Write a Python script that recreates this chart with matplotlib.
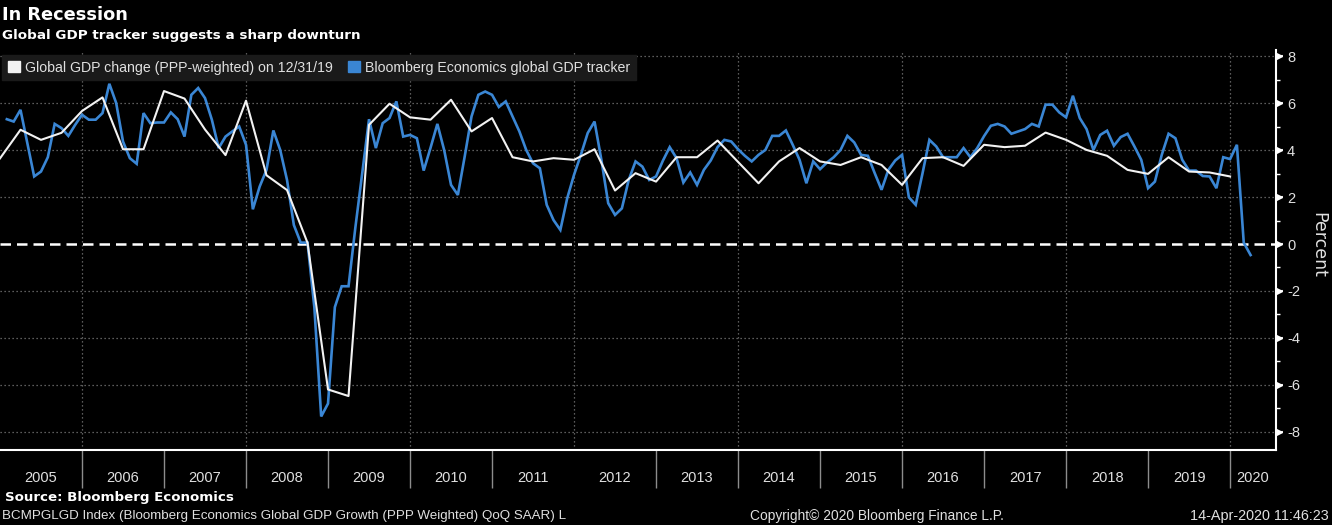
import numpy as np
import matplotlib
matplotlib.use("Agg")
import matplotlib.pyplot as plt
from matplotlib.patches import Patch

plt.rcParams["axes.unicode_minus"] = False

# ---------------- data ----------------
gdp_label = "Global GDP change (PPP-weighted) on 12/31/19"
tracker_label = "Bloomberg Economics global GDP tracker"

# quarterly global GDP change, from 2005 Q1 (plotted on quarter boundaries)
gdp_start = 2005.0
gdp_values = [3.65, 4.87, 4.44, 4.74, 5.67, 6.25, 4.04, 4.04, 6.52, 6.20,
              4.88, 3.79, 6.11, 2.93, 2.30, 0.05, -6.20, -6.48, 5.08, 5.98,
              5.40, 5.30, 6.15, 4.80, 5.37, 3.70, 3.52, 3.66, 3.59, 4.04,
              2.28, 3.02, 2.66, 3.70, 3.70, 4.41, 3.50, 2.59, 3.52, 4.09,
              3.52, 3.37, 3.70, 3.37, 2.52, 3.66, 3.70, 3.33, 4.23, 4.13,
              4.19, 4.75, 4.44, 4.01, 3.76, 3.16, 2.99, 3.70, 3.09, 3.05,
              2.88]

# monthly Bloomberg Economics tracker, first point end of Jan 2005
tracker_start = 2005.0 + 1 / 12
tracker_values = [5.32, 5.22, 5.72, 4.30, 2.88, 3.09, 3.70, 5.12, 4.94, 4.61,
                  5.08, 5.51, 5.30, 5.30, 5.58, 6.83, 6.01, 4.37, 3.66, 3.42,
                  5.58, 5.15, 5.18, 5.18, 5.61, 5.32, 4.58, 6.36, 6.65, 6.22,
                  5.30, 4.09, 4.58, 4.80, 5.01, 4.23, 1.48, 2.45, 3.16, 4.84,
                  4.01, 2.73, 0.81, 0.06, 0.06, -2.70, -7.35, -6.80, -2.69, -1.80,
                  -1.80, 0.70, 3.00, 5.32, 4.09, 5.15, 5.37, 6.08, 4.58, 4.65,
                  4.51, 3.13, 4.10, 5.12, 4.00, 2.52, 2.09, 3.73, 5.44, 6.36,
                  6.50, 6.36, 5.84, 6.08, 5.44, 4.80, 4.01, 3.44, 3.23, 1.67,
                  1.02, 0.60, 1.95, 2.95, 3.80, 4.73, 5.22, 3.59, 1.74, 1.24,
                  1.52, 2.73, 3.52, 3.30, 2.73, 2.88, 3.55, 4.13, 3.66, 2.62,
                  3.05, 2.52, 3.16, 3.56, 4.13, 4.44, 4.37, 4.04, 3.76, 3.52,
                  3.80, 4.01, 4.61, 4.61, 4.84, 4.23, 3.59, 2.59, 3.52, 3.19,
                  3.47, 3.70, 4.01, 4.61, 4.33, 3.80, 3.76, 3.02, 2.31, 3.16,
                  3.56, 3.80, 1.99, 1.67, 3.02, 4.44, 4.16, 3.70, 3.70, 3.70,
                  4.09, 3.70, 4.09, 4.60, 5.04, 5.12, 5.01, 4.70, 4.80, 4.90,
                  5.12, 5.01, 5.94, 5.94, 5.61, 5.40, 6.32, 5.37, 4.90, 4.01,
                  4.65, 4.83, 4.19, 4.56, 4.70, 4.16, 3.59, 2.38, 2.66, 3.80,
                  4.70, 4.51, 3.59, 3.13, 3.13, 2.90, 2.88, 2.38, 3.70, 3.62,
                  4.23, 0.06, -0.47]

year_labels = [str(y) for y in range(2005, 2021)]
year_starts = list(range(2005, 2021))
separator_years = [y for y in range(2006, 2021) if y != 2012]
grid_years = list(range(2006, 2021, 2))
y_ticks = [8, 6, 4, 2, 0, -2, -4, -6, -8]
y_minor = [7, 5, 3, 1, -1, -3, -5, -7]

# ---------------- style ----------------
W, H = 1332, 525
BG = "#000000"
BLUE = "#3a86d4"
WHITE = "#f2f2f2"
TXT = "#e0e0e0"
GRID = "#7a7a7a"
SEP = "#8c8c8c"
NARROW = ["Liberation Sans", "DejaVu Sans"]
BOLD = ["DejaVu Sans"]

fig = plt.figure(figsize=(W / 100, H / 100), dpi=100, facecolor=BG)
ax = fig.add_axes([0 / W, (H - 450) / H, 1276 / W, 400 / H], facecolor=BG)

gdp_x = gdp_start + np.arange(len(gdp_values)) / 4
tr_x = tracker_start + np.arange(len(tracker_values)) / 12

ax.set_xlim(2005.0, 2020.56)
ax.set_ylim(-8.78, 8.27)

# grid
for v in y_ticks:
    if v != 0:
        ax.axhline(v, color=GRID, lw=0.9, linestyle=(0, (1, 2.2)), zorder=1)
for yv in grid_years:
    ax.axvline(yv, color=GRID, lw=0.9, linestyle=(0, (1, 2.2)), zorder=1)
ax.axhline(0, color="white", lw=1.8, linestyle=(0, (4.2, 2.4)), zorder=2)

ax.plot(tr_x, tracker_values, color=BLUE, lw=1.9, zorder=3,
        solid_joinstyle="miter")
ax.plot(gdp_x, gdp_values, color=WHITE, lw=1.5, zorder=4)

# spines
for s in ("top", "left"):
    ax.spines[s].set_visible(False)
ax.spines["right"].set_color("white")
ax.spines["right"].set_linewidth(1.5)
ax.spines["bottom"].set_color("white")
ax.spines["bottom"].set_linewidth(1.5)

# y axis on the right
ax.yaxis.tick_right()
ax.set_yticks(y_ticks)
ax.set_yticklabels([str(v) for v in y_ticks])
ax.set_yticks(y_minor, minor=True)
ax.tick_params(axis="y", which="major", colors=TXT, length=5, width=1.5,
               pad=3, labelsize=10.5, direction="out")
ax.tick_params(axis="y", which="minor", color="white", length=3, width=1,
               direction="out")
for lab in ax.get_yticklabels():
    lab.set_family(NARROW)
ax.plot([1.0 + 3 / 1276] * len(y_ticks), y_ticks, linestyle="none",
        marker=">", markersize=4.5, color="white",
        transform=ax.get_yaxis_transform(), clip_on=False, zorder=5)

# x axis: separators as major ticks, labels at year middles (minor)
ax.set_xticks(separator_years)
ax.set_xticklabels([""] * len(separator_years))
mids = [y + 0.5 for y in year_starts[:-1]] + [(2020 + 2020.56) / 2]
ax.set_xticks(mids, minor=True)
ax.set_xticklabels(year_labels, minor=True)
ax.tick_params(axis="x", which="major", color=SEP, length=27, width=1,
               direction="out")
ax.tick_params(axis="x", which="minor", length=0, pad=15, colors=TXT,
               labelsize=10.5)
for lab in ax.get_xticklabels(minor=True):
    lab.set_family(NARROW)

# legend
handles = [Patch(facecolor=WHITE, edgecolor=WHITE),
           Patch(facecolor=BLUE, edgecolor=BLUE)]
leg = ax.legend(handles, [gdp_label, tracker_label], loc="upper left",
                bbox_to_anchor=(2 / W, 1 - 55 / H),
                bbox_transform=fig.transFigure, ncol=2, frameon=True,
                facecolor="#1a1a1a", edgecolor="#1a1a1a", framealpha=1,
                fancybox=False, handlelength=0.85, handleheight=0.85,
                handletextpad=0.35, columnspacing=1.1, borderpad=0.4,
                borderaxespad=0, prop={"family": NARROW, "size": 10.2})
for t in leg.get_texts():
    t.set_color(TXT)

# texts
fig.text(2 / W, 1 - 15 / H, "In Recession", color="white", fontsize=12.8,
         weight="bold", va="center", ha="left", family=BOLD)
fig.text(2 / W, 1 - 35 / H, "Global GDP tracker suggests a sharp downturn",
         color="white", fontsize=9.7, weight="bold", va="center", ha="left",
         family=BOLD)
fig.text(1318 / W, 1 - 245 / H, "Percent", color=TXT, fontsize=12.5,
         rotation=270, va="center", ha="center", family=["DejaVu Sans"])
fig.text(5 / W, 1 - 497 / H, "Source: Bloomberg Economics", color="white",
         fontsize=9.6, weight="bold", va="center", ha="left", family=BOLD)
fig.text(2 / W, 1 - 516 / H,
         "BCMPGLGD Index (Bloomberg Economics Global GDP Growth (PPP Weighted) QoQ SAAR) L",
         color=TXT, fontsize=9.6, va="center", ha="left", family=NARROW)
fig.text(750 / W, 1 - 516 / H, "Copyright\u00a9 2020 Bloomberg Finance L.P.",
         color=TXT, fontsize=9.9, va="center", ha="left", family=NARROW)
fig.text(1329 / W, 1 - 516 / H, "14-Apr-2020 11:46:23", color=TXT,
         fontsize=10.4, va="center", ha="right", family=NARROW)

fig.savefig("out.png", dpi=100, facecolor=BG)
